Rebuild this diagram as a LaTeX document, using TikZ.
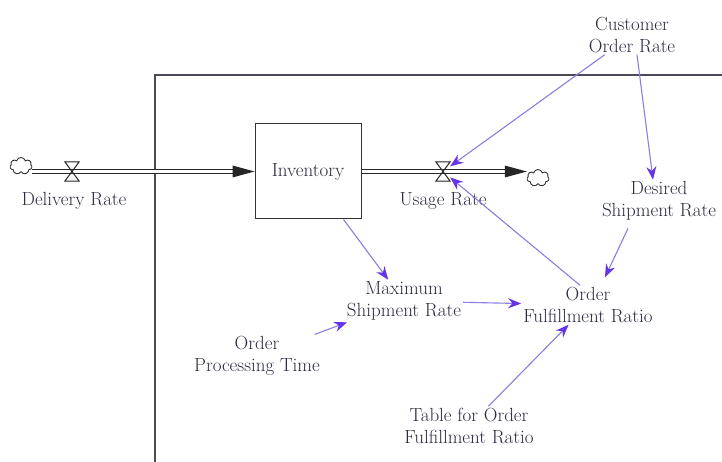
\documentclass[tikz,border=0pt]{standalone}
\usetikzlibrary{arrows.meta,shapes.symbols}
\definecolor{txt}{HTML}{2E2A42}
\definecolor{lnk}{HTML}{8A7EE0}
\definecolor{tipc}{HTML}{6633E6}
\definecolor{frm}{HTML}{4A4A5A}
\begin{document}
\begin{tikzpicture}[x=1pt,y=-1pt,
  lbl/.style={text=txt, align=center, font=\fontsize{19}{21.5}\selectfont, inner sep=2pt},
  link/.style={draw=lnk, line width=1.1pt, -{Stealth[length=13pt,width=10pt,color=tipc]}},
  pipe/.style={draw=black!85, double=white, double distance=2.6pt, line width=0.9pt},
  valvebox/.style={minimum width=14pt, minimum height=19pt, inner sep=0pt},
  valveline/.style={draw=black!85, line width=1pt},
  cloudn/.style={cloud, cloud puffs=7, draw=black!80, line width=0.9pt, minimum width=22pt, minimum height=17pt, inner sep=0pt, aspect=1.3},
  stock/.style={draw=black!80, line width=1pt, minimum width=106pt, minimum height=95pt, text=txt, font=\fontsize{19}{21.5}\selectfont},
  framel/.style={draw=frm, line width=1.3pt}]
\useasboundingbox (0,0) rectangle (722,462);
\fill[white] (0,0) rectangle (722,462);
\draw[framel] (155,462) -- (155,75) -- (722,75);

\node[stock] (inv) at (308,171.5) {Inventory};
\node[cloudn] (c1) at (21,166) {};
\node[cloudn] (c2) at (538,178) {};
\node[valvebox] (v1) at (72,171.5) {};
\node[valvebox] (v2) at (443,171.5) {};
\node[lbl] (dr) at (74,201) {Delivery Rate};
\node[lbl] (ur) at (443,201) {Usage Rate};
\node[lbl] (cor) at (632,35) {Customer\\Order Rate};
\node[lbl] (dsr) at (659,201) {Desired\\Shipment Rate};
\node[lbl] (msr) at (404,301) {Maximum\\Shipment Rate};
\node[lbl] (ofr) at (588,305) {Order\\Fulfillment Ratio};
\node[lbl] (opt) at (257,356) {Order\\Processing Time};
\node[lbl] (tab) at (469,426) {Table for Order\\Fulfillment Ratio};

% pipes
\draw[pipe] (c1.east |- inv.west) -- ([xshift=-20pt]inv.west);
\fill[black!85] (inv.west) -- ++(-22,-6) -- ++(0,12) -- cycle;
\draw[pipe] (inv.east) -- ([xshift=-20pt]c2.west |- inv.east);
\fill[black!85] (c2.west |- inv.east) -- ++(-22,-6) -- ++(0,12) -- cycle;
\draw[valveline] (v1.north west) -- (v1.north east) -- (v1.south west) -- (v1.south east) -- cycle;
\draw[valveline] (v2.north west) -- (v2.north east) -- (v2.south west) -- (v2.south east) -- cycle;

% links
\draw[link] (cor) -- (v2);
\draw[link] ([xshift=5pt]cor.south) -- ([xshift=-6pt]dsr.north);
\draw[link] ([xshift=-31pt,yshift=-6pt]dsr.south) -- ([xshift=17pt,yshift=8pt]ofr.north);
\draw[link] ([xshift=-8pt]ofr.north) -- (v2);
\draw[link] (inv) -- (msr);
\draw[link] (msr) -- (ofr);
\draw[link] (opt) -- (msr);
\draw[link] (tab) -- (ofr);
\end{tikzpicture}
\end{document}
